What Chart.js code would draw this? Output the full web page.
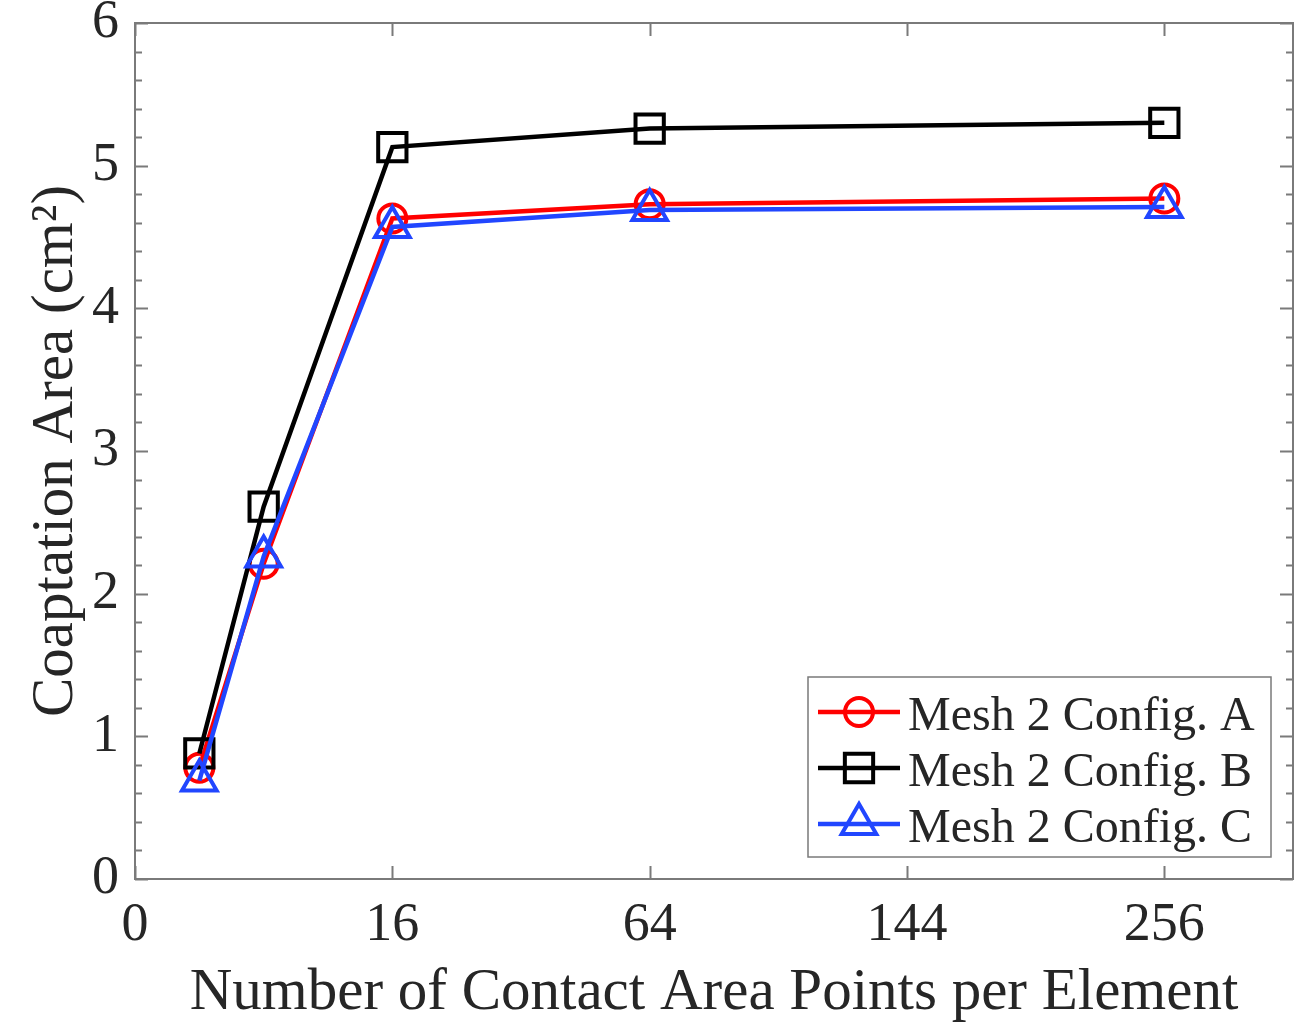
<!DOCTYPE html>
<html>
<head>
<meta charset="utf-8">
<script src="https://cdn.jsdelivr.net/npm/chart.js@4.4.1/dist/chart.umd.min.js"></script>
<style>
  html, body { margin: 0; padding: 0; background: #fff; }
  #chart { display: block; }
</style>
</head>
<body>
<canvas id="chart" width="1302" height="1029"></canvas>
<script>
// Contact area points per element (x) and coaptation area in cm^2 (y)
const pointsPerElement = [1, 4, 16, 64, 256];
const configA = [0.78, 2.21, 4.63, 4.73, 4.77];
const configB = [0.88, 2.61, 5.13, 5.26, 5.30];
const configC = [0.69, 2.26, 4.57, 4.69, 4.71];
const seriesLabels = ['Mesh 2 Config. A', 'Mesh 2 Config. B', 'Mesh 2 Config. C'];
const xTickValues = [0, 16, 64, 144, 256];
const yTickValues = [0, 1, 2, 3, 4, 5, 6];

const axisColor = '#7a7a7a';
const textColor = '#262626';
const serif = "'Liberation Serif', 'Times New Roman', serif";

// x axis is spaced by the square root of the point count
const toXY = (vals) => vals.map((v, i) => ({ x: Math.sqrt(pointsPerElement[i]), y: v }));

// draws the MATLAB style box with inward ticks on all four sides
const boxPlugin = {
  id: 'boxPlugin',
  afterDatasetsDraw(chart) {
    const { ctx, chartArea: { left, right, top, bottom } } = chart;
    const xs = chart.scales.x, ys = chart.scales.y;
    ctx.save();
    ctx.strokeStyle = axisColor;
    ctx.lineWidth = 2;
    ctx.beginPath();
    for (let i = 0; i <= 30; i++) {
      const y = Math.round(ys.getPixelForValue(i / 5)) + 0.5;
      const len = i % 5 === 0 ? 13 : 7;
      ctx.moveTo(left, y); ctx.lineTo(left + len, y);
      ctx.moveTo(right, y); ctx.lineTo(right - len, y);
    }
    xTickValues.forEach(v => {
      const x = Math.round(xs.getPixelForValue(Math.sqrt(v))) + 0.5;
      ctx.moveTo(x, bottom); ctx.lineTo(x, bottom - 13);
      ctx.moveTo(x, top); ctx.lineTo(x, top + 13);
    });
    ctx.stroke();
    ctx.strokeRect(left, top, right - left, bottom - top);
    ctx.restore();
  }
};

function drawMarker(ctx, style, x, y, r) {
  ctx.beginPath();
  if (style === 'circle') {
    ctx.arc(x, y, r, 0, Math.PI * 2);
  } else if (style === 'rect') {
    const s = r * Math.SQRT1_2;
    ctx.rect(x - s, y - s, 2 * s, 2 * s);
  } else if (style === 'triangle') {
    let rad = 0;
    ctx.moveTo(x + Math.sin(rad) * r, y - Math.cos(rad) * r);
    rad += 2 * Math.PI / 3;
    ctx.lineTo(x + Math.sin(rad) * r, y - Math.cos(rad) * r);
    rad += 2 * Math.PI / 3;
    ctx.lineTo(x + Math.sin(rad) * r, y - Math.cos(rad) * r);
    ctx.closePath();
  }
  ctx.stroke();
}

// legend box inside the lower right corner of the plot
const legendPlugin = {
  id: 'boxLegend',
  afterDraw(chart) {
    const { ctx } = chart;
    const bx = 808, by = 677, bw = 463, bh = 180;
    ctx.save();
    ctx.fillStyle = '#fff';
    ctx.fillRect(bx, by, bw, bh);
    ctx.strokeStyle = axisColor;
    ctx.lineWidth = 1.5;
    ctx.strokeRect(bx, by, bw, bh);
    const rows = [712, 768, 824];
    seriesLabels.forEach((label, i) => {
      const ds = chart.data.datasets.find(d => d.label === label);
      const y = rows[i];
      ctx.strokeStyle = ds.borderColor;
      ctx.lineWidth = ds.borderWidth;
      ctx.beginPath();
      ctx.moveTo(818, y); ctx.lineTo(900, y);
      ctx.stroke();
      ctx.lineWidth = ds.pointBorderWidth;
      drawMarker(ctx, ds.pointStyle, 859, y, ds.pointRadius);
      ctx.fillStyle = textColor;
      ctx.font = '48px ' + serif;
      ctx.textAlign = 'left';
      ctx.textBaseline = 'alphabetic';
      ctx.fillText(label, 908, y + 18);
    });
    ctx.restore();
  }
};

function makeDataset(label, values, color, style, radius, order) {
  return {
    label: label,
    data: toXY(values),
    borderColor: color,
    backgroundColor: color,
    borderWidth: 4.5,
    pointStyle: style,
    pointRadius: radius,
    pointHoverRadius: radius,
    pointBorderColor: color,
    pointBackgroundColor: 'rgba(0,0,0,0)',
    pointBorderWidth: 4,
    tension: 0,
    clip: false,
    order: order
  };
}

new Chart(document.getElementById('chart'), {
  type: 'line',
  data: {
    datasets: [
      makeDataset(seriesLabels[0], configA, '#ff0000', 'circle', 14, 2),
      makeDataset(seriesLabels[1], configB, '#000000', 'rect', 20, 1),
      makeDataset(seriesLabels[2], configC, '#2146ff', 'triangle', 20, 0)
    ]
  },
  options: {
    responsive: false,
    animation: false,
    events: [],
    layout: { autoPadding: false, padding: { top: 23, right: 9, left: 0, bottom: 0 } },
    plugins: {
      legend: { display: false },
      tooltip: { enabled: false }
    },
    scales: {
      x: {
        type: 'linear',
        min: 0,
        max: 18,
        grid: { display: false, drawTicks: false },
        border: { display: false },
        afterBuildTicks: (scale) => {
          scale.ticks = xTickValues.map(v => ({ value: Math.sqrt(v) }));
        },
        afterFit: (scale) => {
          scale.height = 150;
          scale.paddingLeft = 0;
          scale.paddingRight = 0;
        },
        ticks: {
          color: textColor,
          font: { family: serif, size: 54 },
          padding: 14,
          maxRotation: 0,
          callback: (value) => String(Math.round(value * value))
        },
        title: {
          display: true,
          text: 'Number of Contact Area Points per Element',
          color: textColor,
          font: { family: serif, size: 59 },
          padding: { top: 0, bottom: 0 }
        }
      },
      y: {
        min: 0,
        max: 6,
        grid: { display: false, drawTicks: false },
        border: { display: false },
        afterBuildTicks: (scale) => {
          scale.ticks = yTickValues.map(v => ({ value: v }));
        },
        afterFit: (scale) => {
          scale.width = 135;
          scale.paddingTop = 0;
          scale.paddingBottom = 0;
        },
        ticks: {
          color: textColor,
          font: { family: serif, size: 54 },
          padding: 16
        },
        title: {
          display: true,
          text: 'Coaptation Area (cm²)',
          color: textColor,
          font: { family: serif, size: 59 },
          padding: { top: 21, bottom: 0 }
        }
      }
    }
  },
  plugins: [boxPlugin, legendPlugin]
});
</script>
</body>
</html>
